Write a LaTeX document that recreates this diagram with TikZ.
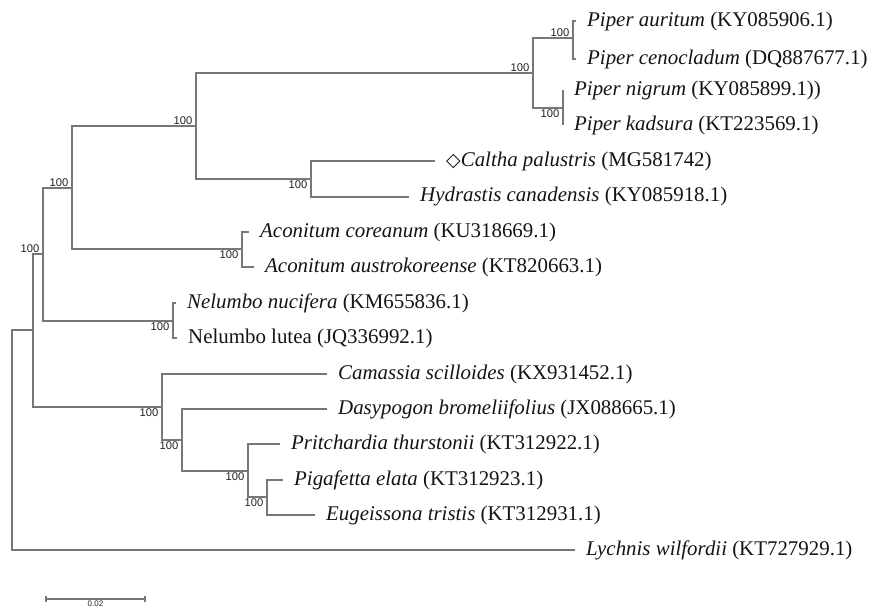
\documentclass[tikz,border=0pt]{standalone}
\usepackage{fontspec}
\setmainfont{Liberation Serif}
\newfontfamily\bootfont{Liberation Sans}
\newfontfamily\symfont{DejaVu Sans}
\usepackage{tikz}
\usetikzlibrary{positioning, calc}
\usepackage{xcolor}
\definecolor{branchgray}{HTML}{777777}
\definecolor{taxonblack}{HTML}{141414}
\definecolor{bootgray}{HTML}{222222}
\tikzstyle{branch} = [draw=branchgray, line width=1.4pt]
\tikzstyle{taxon} = [
    inner sep=0pt, text=taxonblack, font=\fontsize{20.9}{24}\selectfont
]
\tikzstyle{boot} = [
    inner sep=0.5pt, text=bootgray, font=\bootfont\fontsize{11.2}{13}\selectfont
]
\newcommand{\species}[1]{\textit{#1}}

\begin{document}
\begin{tikzpicture}[x=1pt, y=-1pt, node distance=11pt]
    \useasboundingbox (0,0) rectangle (871,611);
    % Internal nodes
    \coordinate (root) at (12,440);
    \coordinate (angio) at (33,330);
    \coordinate (dicots) at (43,254);
    \coordinate (piperrano) at (72,188);
    \coordinate (piperranu) at (196,126);
    \coordinate (piper) at (533,73);
    \coordinate (piperA) at (573,38);
    \coordinate (piperB) at (563,108);
    \coordinate (ranunc) at (311,179);
    \coordinate (aconitum) at (242,249);
    \coordinate (nelumbo) at (173,321);
    \coordinate (monocots) at (162,407);
    \coordinate (monoB) at (182,440);
    \coordinate (palms) at (248,471);
    \coordinate (palmsB) at (267,497);
    % Tips
    \coordinate (auritum) at (576,21);
    \coordinate (cenocladum) at (576,59);
    \coordinate (nigrum) at (563,90);
    \coordinate (kadsura) at (563,125);
    \coordinate (caltha) at (435,161);
    \coordinate (hydrastis) at (409,197);
    \coordinate (coreanum) at (249,232);
    \coordinate (austro) at (254,267);
    \coordinate (nucifera) at (176,303);
    \coordinate (lutea) at (177,338);
    \coordinate (camassia) at (327,374);
    \coordinate (dasypogon) at (327,409);
    \coordinate (pritchardia) at (280,444);
    \coordinate (pigafetta) at (283,480);
    \coordinate (eugeissona) at (315,515);
    \coordinate (lychnis) at (575,550);
    % Taxon labels
    \node[taxon, right=of auritum] (auritumL) {\species{Piper auritum} (KY085906.1)};
    \node[taxon, right=of cenocladum] (cenocladumL) {\species{Piper cenocladum} (DQ887677.1)};
    \node[taxon, right=of nigrum] (nigrumL) {\species{Piper nigrum} (KY085899.1))};
    \node[taxon, right=of kadsura] (kadsuraL) {\species{Piper kadsura} (KT223569.1)};
    \node[taxon, right=of caltha] (calthaL) {{\symfont\fontsize{19}{19}\selectfont ◇}\species{Caltha palustris} (MG581742)};
    \node[taxon, right=of hydrastis] (hydrastisL) {\species{Hydrastis canadensis} (KY085918.1)};
    \node[taxon, right=of coreanum] (coreanumL) {\species{Aconitum coreanum} (KU318669.1)};
    \node[taxon, right=of austro] (austroL) {\species{Aconitum austrokoreense} (KT820663.1)};
    \node[taxon, right=of nucifera] (nuciferaL) {\species{Nelumbo nucifera} (KM655836.1)};
    \node[taxon, right=of lutea] (luteaL) {Nelumbo lutea (JQ336992.1)};
    \node[taxon, right=of camassia] (camassiaL) {\species{Camassia scilloides} (KX931452.1)};
    \node[taxon, right=of dasypogon] (dasypogonL) {\species{Dasypogon bromeliifolius} (JX088665.1)};
    \node[taxon, right=of pritchardia] (pritchardiaL) {\species{Pritchardia thurstonii} (KT312922.1)};
    \node[taxon, right=of pigafetta] (pigafettaL) {\species{Pigafetta elata} (KT312923.1)};
    \node[taxon, right=of eugeissona] (eugeissonaL) {\species{Eugeissona tristis} (KT312931.1)};
    \node[taxon, right=of lychnis] (lychnisL) {\species{Lychnis wilfordii} (KT727929.1)};
    % Bootstrap values
    \node[boot, above left=1pt and 3pt of dicots] (bdicots) {100};
    \node[boot, above left=1pt and 3pt of piperrano] (bpiperrano) {100};
    \node[boot, above left=1pt and 3pt of piperranu] (bpiperranu) {100};
    \node[boot, above left=1pt and 3pt of piper] (bpiper) {100};
    \node[boot, above left=1pt and 3pt of piperA] (bpiperA) {100};
    \node[boot, below left=1pt and 3pt of piperB] (bpiperB) {100};
    \node[boot, below left=1pt and 3pt of ranunc] (branunc) {100};
    \node[boot, below left=1pt and 3pt of aconitum] (baconitum) {100};
    \node[boot, below left=1pt and 3pt of nelumbo] (bnelumbo) {100};
    \node[boot, below left=1pt and 3pt of monocots] (bmonocots) {100};
    \node[boot, below left=1pt and 3pt of monoB] (bmonoB) {100};
    \node[boot, below left=1pt and 3pt of palms] (bpalms) {100};
    \node[boot, below left=1pt and 3pt of palmsB] (bpalmsB) {100};
    % Branches
    \draw[branch] (root) |- (angio);
    \draw[branch] (root) |- (lychnis);
    \draw[branch] (angio) |- (dicots);
    \draw[branch] (angio) |- (monocots);
    \draw[branch] (dicots) |- (piperrano);
    \draw[branch] (dicots) |- (nelumbo);
    \draw[branch] (piperrano) |- (piperranu);
    \draw[branch] (piperrano) |- (aconitum);
    \draw[branch] (piperranu) |- (piper);
    \draw[branch] (piperranu) |- (ranunc);
    \draw[branch] (piper) |- (piperA);
    \draw[branch] (piper) |- (piperB);
    \draw[branch] (piperA) |- (auritum);
    \draw[branch] (piperA) |- (cenocladum);
    \draw[branch] (piperB) |- (nigrum);
    \draw[branch] (piperB) |- (kadsura);
    \draw[branch] (ranunc) |- (caltha);
    \draw[branch] (ranunc) |- (hydrastis);
    \draw[branch] (aconitum) |- (coreanum);
    \draw[branch] (aconitum) |- (austro);
    \draw[branch] (nelumbo) |- (nucifera);
    \draw[branch] (nelumbo) |- (lutea);
    \draw[branch] (monocots) |- (camassia);
    \draw[branch] (monocots) |- (monoB);
    \draw[branch] (monoB) |- (dasypogon);
    \draw[branch] (monoB) |- (palms);
    \draw[branch] (palms) |- (pritchardia);
    \draw[branch] (palms) |- (palmsB);
    \draw[branch] (palmsB) |- (pigafetta);
    \draw[branch] (palmsB) |- (eugeissona);
    % Scale bar
    \coordinate (scaleL) at (46,599);
    \coordinate (scaleR) at (145,599);
    \draw[branch, line width=1.1pt] (scaleL) -- (scaleR);
    \draw[branch, line width=1.1pt] ([yshift=-3pt]scaleL) -- ([yshift=3pt]scaleL);
    \draw[branch, line width=1.1pt] ([yshift=-3pt]scaleR) -- ([yshift=3pt]scaleR);
    \node[boot, font=\bootfont\fontsize{8}{9}\selectfont, below=1.5pt of $(scaleL)!0.5!(scaleR)$] (scaleT) {0.02};
\end{tikzpicture}
\end{document}
